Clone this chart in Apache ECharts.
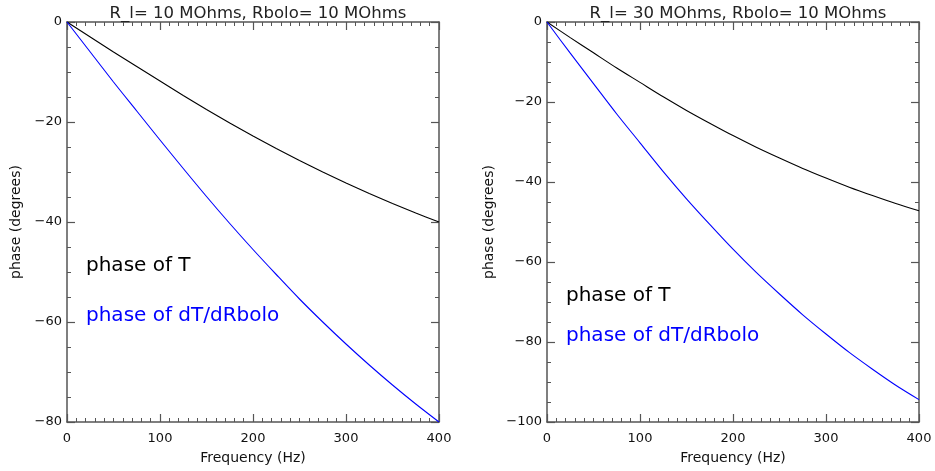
<!DOCTYPE html>
<html>
<head>
<meta charset="utf-8">
<script src="https://cdn.jsdelivr.net/npm/echarts@6/dist/echarts.min.js"></script>
<style>html,body{margin:0;padding:0;background:#fff}#c{width:935px;height:471px}</style>
</head>
<body>
<div id="c"></div>
<script>
// Frequency (Hz)
var freq = [0, 25, 50, 75, 100, 125, 150, 175, 200, 225, 250, 275, 300, 325, 350, 375, 400];
// Left panel: R_l = 10 MOhms
var leftPhaseT = [0, -3.0, -6.0, -8.9, -11.8, -14.7, -17.5, -20.2, -22.8, -25.3, -27.7, -30.0, -32.2, -34.3, -36.3, -38.2, -40.0];
var leftPhaseDT = [0, -6.0, -12.0, -17.8, -23.6, -29.3, -34.9, -40.3, -45.5, -50.5, -55.4, -60.0, -64.4, -68.6, -72.6, -76.4, -80.0];
// Right panel: R_l = 30 MOhms
var rightPhaseT = [0, -3.9, -7.7, -11.5, -15.1, -18.7, -22.1, -25.3, -28.4, -31.3, -34.0, -36.6, -39.0, -41.3, -43.4, -45.4, -47.2];
var rightPhaseDT = [0, -7.8, -15.4, -23.0, -30.2, -37.4, -44.2, -50.6, -56.8, -62.6, -68.0, -73.2, -78.0, -82.6, -86.8, -90.8, -94.4];

var titles = ['R_l= 10 MOhms, Rbolo= 10 MOhms', 'R_l= 30 MOhms, Rbolo= 10 MOhms'];
var legendT = 'phase of T';
var legendDT = 'phase of dT/dRbolo';

function pairs(xs, ys) { return xs.map(function (x, i) { return [x, ys[i]]; }); }

var FONT = 'DejaVu Sans';
var AX = '#555';
function fmt(v) { return String(v).replace('-', '\u2212'); }

function xAxes(gi) {
  var base = {
    type: 'value', gridIndex: gi, min: 0, max: 400, interval: 100,
    splitLine: { show: false },
    axisLine: { show: true, onZero: false, lineStyle: { color: AX, width: 1.5 } },
    axisTick: { show: true, inside: true, length: 8, lineStyle: { color: AX, width: 1.2 } },
    minorTick: { show: true, splitNumber: 10, length: 4, lineStyle: { color: AX, width: 1 } },
    minorSplitLine: { show: false }
  };
  var bottom = Object.assign({}, base, {
    position: 'bottom',
    axisLabel: { show: true, margin: 10, fontFamily: FONT, fontSize: 13, color: '#111', formatter: fmt },
    name: 'Frequency (Hz)', nameLocation: 'middle', nameGap: 29,
    nameTextStyle: { fontFamily: FONT, fontSize: 14, color: '#111' }
  });
  var top = Object.assign({}, base, { position: 'top', axisLabel: { show: false } });
  return [bottom, top];
}

function yAxes(gi, min, nameGap) {
  var base = {
    type: 'value', gridIndex: gi, min: min, max: 0, interval: 20,
    splitLine: { show: false },
    axisLine: { show: true, onZero: false, lineStyle: { color: AX, width: 1.5 } },
    axisTick: { show: true, inside: true, length: 8, lineStyle: { color: AX, width: 1.2 } },
    minorTick: { show: true, splitNumber: 4, length: 4, lineStyle: { color: AX, width: 1 } },
    minorSplitLine: { show: false }
  };
  var left = Object.assign({}, base, {
    position: 'left',
    axisLabel: { show: true, margin: 5, fontFamily: FONT, fontSize: 13, color: '#111', formatter: fmt },
    name: 'phase (degrees)', nameLocation: 'middle', nameGap: nameGap, nameRotate: 90,
    nameTextStyle: { fontFamily: FONT, fontSize: 14, color: '#111' }
  });
  var right = Object.assign({}, base, { position: 'right', axisLabel: { show: false } });
  return [left, right];
}

function line(xi, yi, data, color) {
  return {
    type: 'line', xAxisIndex: xi, yAxisIndex: yi, data: data,
    showSymbol: false, smooth: 0.3, silent: true,
    lineStyle: { color: color, width: 1.1 }
  };
}

var chart = echarts.init(document.getElementById('c'), null, { renderer: 'canvas' });
chart.setOption({
  animation: false,
  backgroundColor: '#fff',
  title: [
    { text: titles[0], left: 253, top: 0, textAlign: 'center',
      textStyle: { fontFamily: FONT, fontSize: 16.5, fontWeight: 'normal', color: '#222' } },
    { text: titles[1], left: 733, top: 0, textAlign: 'center',
      textStyle: { fontFamily: FONT, fontSize: 16.5, fontWeight: 'normal', color: '#222' } }
  ],
  grid: [
    { left: 67, top: 22, width: 372, height: 400 },
    { left: 547, top: 22, width: 372, height: 400 }
  ],
  xAxis: xAxes(0).concat(xAxes(1)),
  yAxis: yAxes(0, -80, 44).concat(yAxes(1, -100, 51)),
  series: [
    line(0, 0, pairs(freq, leftPhaseT), '#000'),
    line(0, 0, pairs(freq, leftPhaseDT), '#0000ff'),
    line(2, 2, pairs(freq, rightPhaseT), '#000'),
    line(2, 2, pairs(freq, rightPhaseDT), '#0000ff')
  ],
  graphic: [
    { type: 'text', left: 86, top: 256, style: { text: legendT, fill: '#000', font: '20px "DejaVu Sans"' } },
    { type: 'text', left: 86, top: 306, style: { text: legendDT, fill: '#0000ff', font: '20px "DejaVu Sans"' } },
    { type: 'text', left: 566, top: 286, style: { text: legendT, fill: '#000', font: '20px "DejaVu Sans"' } },
    { type: 'text', left: 566, top: 326, style: { text: legendDT, fill: '#0000ff', font: '20px "DejaVu Sans"' } }
  ]
});
</script>
</body>
</html>
